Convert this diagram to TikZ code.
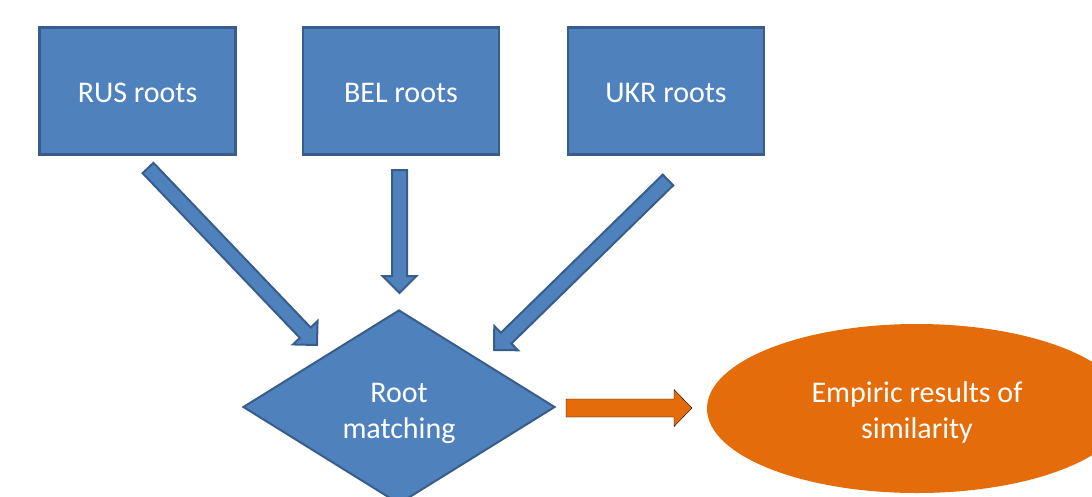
\documentclass[tikz,border=0pt]{standalone}
\usepackage{fontspec}
\setmainfont{Carlito}
\usetikzlibrary{shapes.geometric,calc}
\definecolor{boxblue}{HTML}{4F81BD}
\definecolor{edgeblue}{HTML}{385D8A}
\definecolor{resorange}{HTML}{E46C0A}

% block arrow: [style]{tail}{tip}{half shaft}{half head}{head length}
\newcommand{\fatarrow}[6][]{%
  \coordinate (fabase) at ($(#3)!#6!(#2)$);
  \draw[#1] ($(#2)!#4!90:(#3)$) -- ($(fabase)!#4!90:(#3)$)
    -- ($(fabase)!#5!90:(#3)$) -- (#3) -- ($(fabase)!#5!-90:(#3)$)
    -- ($(fabase)!#4!-90:(#3)$) -- ($(#2)!#4!-90:(#3)$) -- cycle;}
% set a line of text a little lower without changing its box
\newcommand{\lowered}[2]{\raisebox{-#1}[\height][\depth]{#2}}

\begin{document}
\begin{tikzpicture}[x=1pt,y=-1pt,
  every node/.style={font=\fontsize{30}{36}\selectfont, text=white, align=center},
  rootbox/.style={draw=edgeblue, line width=2.5pt, fill=boxblue,
    minimum width=196pt, minimum height=127pt, inner sep=0pt},
  matchdiamond/.style={diamond, draw=edgeblue, line width=2pt, fill=boxblue,
    minimum width=312pt, minimum height=194pt, shape aspect=1.6, inner sep=0pt},
  resultoval/.style={ellipse, fill=resorange,
    minimum width=420pt, minimum height=169pt, inner sep=0pt},
  bluearrow/.style={draw=edgeblue, line width=2pt, fill=boxblue},
  orangearrow/.style={fill=resorange}]
\useasboundingbox (0,0) rectangle (1092,496);
\clip (0,0) rectangle (1092,496);

\node[rootbox] (rus) at (137.5,91) {\lowered{2pt}{RUS roots}};
\node[rootbox] (bel) at (401,91) {\lowered{2pt}{BEL roots}};
\node[rootbox] (ukr) at (666,91) {\lowered{2pt}{UKR roots}};
\node[matchdiamond] (match) at (399,407)
  {\lowered{6pt}{Root}\\\lowered{6pt}{matching}};
\node[resultoval] (res) at (917,408.5)
  {\lowered{4pt}{Empiric results of}\\\lowered{4pt}{similarity}};

% arrow ends
\coordinate (rusA) at (148,168);
\coordinate (rusB) at (317,345);
\coordinate (belA) at (399.5,170);
\coordinate (belB) at (399.5,293);
\coordinate (ukrA) at (668,180);
\coordinate (ukrB) at (494,350);
\coordinate (resA) at (566,408);
\coordinate (resB) at (692,408);

\fatarrow[bluearrow]{rusA}{rusB}{7.5pt}{17pt}{17pt}
\fatarrow[bluearrow]{belA}{belB}{7.5pt}{17pt}{17pt}
\fatarrow[bluearrow]{ukrA}{ukrB}{7.5pt}{17pt}{17pt}
\fatarrow[orangearrow]{resA}{resB}{9pt}{18.5pt}{18pt}
\end{tikzpicture}
\end{document}
